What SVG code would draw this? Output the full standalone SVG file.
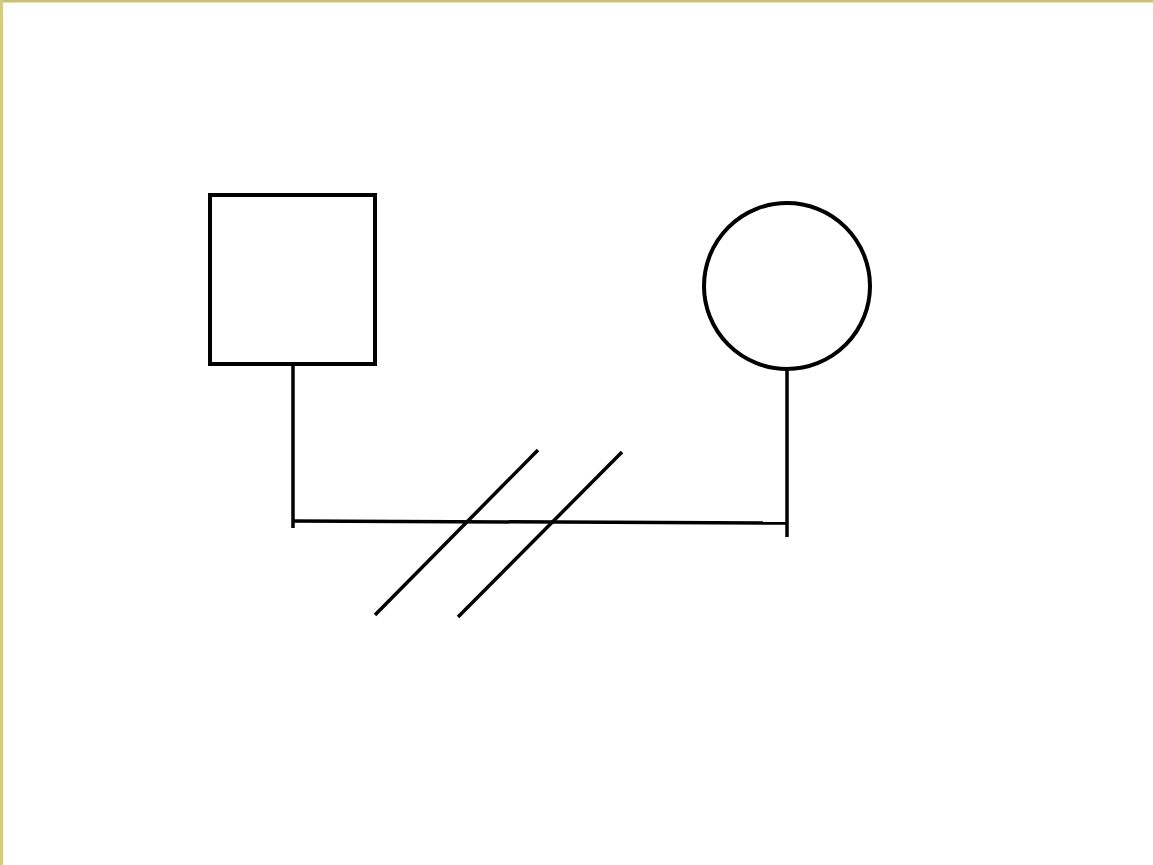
<svg xmlns="http://www.w3.org/2000/svg" width="1153" height="865" viewBox="0 0 1153 865">
<style>
.ln{stroke:#000;stroke-width:3.5;fill:none;stroke-linecap:butt}
.nd{stroke:#000;stroke-width:4;fill:#fff}
</style>
<rect x="0" y="0" width="1153" height="865" fill="#fff"/>
<rect x="0" y="0" width="1153" height="2.5" fill="#c8c07a"/>
<rect x="0" y="0" width="3" height="865" fill="#d2cc84"/>
<g id="male"><rect class="nd" x="210" y="195" width="165" height="169"/></g>
<g id="female"><circle class="nd" cx="787" cy="286" r="83"/></g>
<g id="connectors">
<path class="ln" d="M293 364 V528" stroke-width="3"/>
<path class="ln" d="M787 369 V537" stroke-width="3"/>
<path class="ln" d="M293 521 L787 523" stroke-width="4"/>
<path class="ln" d="M375 615 L538 450"/>
<path class="ln" d="M458 617 L622 452"/>
</g>
</svg>
